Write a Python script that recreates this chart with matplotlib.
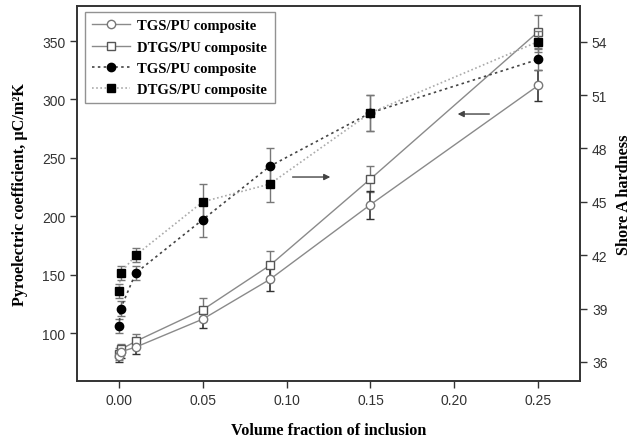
import numpy as np
import matplotlib.pyplot as plt
from matplotlib.lines import Line2D

# --- DATA ---
vf = [0.0, 0.001, 0.01, 0.05, 0.09, 0.15, 0.25]

# pyroelectric coefficient (left axis, open markers)
pyro_tgs = [80, 84, 88, 112, 146, 210, 312]
pyro_tgs_err = [5, 5, 6, 8, 10, 12, 13]
pyro_dtgs = [82, 86, 93, 120, 158, 232, 358]
pyro_dtgs_err = [5, 5, 6, 10, 12, 11, 14]

# Shore A hardness (right axis, filled markers)
hard_tgs = [38, 39, 41, 44, 47, 50, 53]
hard_tgs_err = [0.4, 0.4, 0.4, 1.0, 1.0, 1.0, 0.6]
hard_dtgs = [40, 41, 42, 45, 46, 50, 54]
hard_dtgs_err = [0.4, 0.4, 0.4, 1.0, 1.0, 1.0, 0.6]

xticks = [0.00, 0.05, 0.10, 0.15, 0.20, 0.25]
left_ticks = [100, 150, 200, 250, 300, 350]
right_ticks = [36, 39, 42, 45, 48, 51, 54]

serif = ['Liberation Serif', 'DejaVu Serif']
sans = ['Liberation Sans', 'DejaVu Sans']
plt.rcParams['font.family'] = sans

fig = plt.figure(figsize=(6.34, 4.39), dpi=100)
ax = fig.add_axes([0.1215, 0.1298, 0.7935, 0.8542])
ax2 = ax.twinx()

# --- pyroelectric (left) ---
ax.errorbar(vf, pyro_dtgs, yerr=pyro_dtgs_err, color='#8a8a8a', lw=1.0,
            marker='s', ms=6, mfc='white', mec='#555555', mew=1.0,
            ecolor='#777777', elinewidth=1.0, capsize=3, zorder=3)
ax.errorbar(vf, pyro_tgs, yerr=pyro_tgs_err, color='#8a8a8a', lw=1.0,
            marker='o', ms=6, mfc='white', mec='#777777', mew=1.0,
            ecolor='#333333', elinewidth=1.2, capsize=3, zorder=3)

# --- hardness (right) ---
ax2.errorbar(vf, hard_tgs, yerr=hard_tgs_err, color='#444444', lw=1.2, ls=(0, (1.5, 2)),
             marker='o', ms=6, mfc='black', mec='black',
             ecolor='#777777', elinewidth=1.0, capsize=3, zorder=3)
ax2.errorbar(vf, hard_dtgs, yerr=hard_dtgs_err, color='#aaaaaa', lw=1.2, ls=(0, (1, 1.5)),
             marker='s', ms=5.5, mfc='black', mec='black',
             ecolor='#777777', elinewidth=1.0, capsize=3, zorder=3)

ax.set_xlim(-0.025, 0.275)
ax.set_ylim(59, 380)
ax2.set_ylim(34.93, 56.0)
ax.set_xticks(xticks)
ax.set_xticklabels([f'{t:.2f}' for t in xticks])
ax.set_yticks(left_ticks)
ax2.set_yticks(right_ticks)

for a in (ax, ax2):
    a.tick_params(direction='out', length=5, width=1.0, color='#333333',
                  labelsize=10, labelcolor='#333333')
    for sp in a.spines.values():
        sp.set_color('#333333')
        sp.set_linewidth(1.2)

ax.set_xlabel('Volume fraction of inclusion', family=serif, fontweight='bold',
              fontsize=11.7, labelpad=11)
ax.set_ylabel('Pyroelectric coefficient, \u03bcC/m\u00b2K', family=serif,
              fontweight='bold', fontsize=11.7, labelpad=10)
ax2.set_ylabel('Shore A hardness', family=serif, fontweight='bold',
               fontsize=11.7, rotation=90, labelpad=6)

# arrows pointing to the relevant axis
ax.annotate('', xy=(0.509, 0.544), xytext=(0.423, 0.544), xycoords='axes fraction',
            arrowprops=dict(arrowstyle='-|>', color='#444444', lw=1.0,
                            mutation_scale=9))
ax.annotate('', xy=(0.751, 0.712), xytext=(0.825, 0.712), xycoords='axes fraction',
            arrowprops=dict(arrowstyle='-|>', color='#444444', lw=1.0,
                            mutation_scale=9))

# --- legend ---
handles = [
    Line2D([], [], color='#8a8a8a', lw=1.0, marker='o', ms=6, mfc='white', mec='#777777'),
    Line2D([], [], color='#8a8a8a', lw=1.0, marker='s', ms=6, mfc='white', mec='#555555'),
    Line2D([], [], color='#444444', lw=1.2, ls=(0, (1.5, 2)), marker='o', ms=6,
           mfc='black', mec='black'),
    Line2D([], [], color='#aaaaaa', lw=1.2, ls=(0, (1, 1.5)), marker='s', ms=5.5,
           mfc='black', mec='black'),
]
labels = ['TGS/PU composite', 'DTGS/PU composite', 'TGS/PU composite', 'DTGS/PU composite']
leg = ax2.legend(handles, labels, loc='upper left', bbox_to_anchor=(0.01, 0.992),
                 prop={'family': serif, 'weight': 'bold', 'size': 10.5},
                 frameon=True, fancybox=False, handlelength=2.6, handletextpad=0.5,
                 labelspacing=0.55, borderpad=0.5, borderaxespad=0.2)
leg.get_frame().set_edgecolor('#777777')
leg.get_frame().set_linewidth(1.0)

fig.savefig('out.png', dpi=100)
